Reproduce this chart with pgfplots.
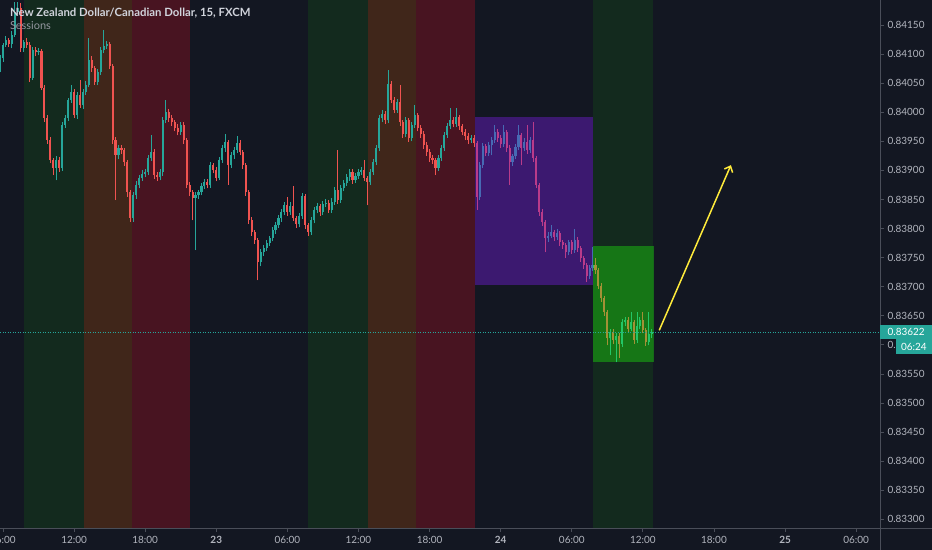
\documentclass[border=0pt]{standalone}
\usepackage{fontspec}
\setmainfont{Lato}
\usepackage{pgfplots}
\usepackage{pgfplotstable}
\pgfplotsset{compat=1.18}
\usetikzlibrary{arrows.meta}

\definecolor{bg}{HTML}{131722}
\definecolor{up}{HTML}{26A69A}
\definecolor{down}{HTML}{EF5350}
\definecolor{lon}{HTML}{132A1E}
\definecolor{ovl}{HTML}{40261A}
\definecolor{ny}{HTML}{481421}
\definecolor{asia}{RGB}{115,28,215}
\definecolor{lonbox}{RGB}{30,255,10}
\definecolor{axisgray}{HTML}{4A4E59}
\definecolor{ticktext}{HTML}{B2B5BE}
\definecolor{titletext}{HTML}{D1D4DC}
\definecolor{subtext}{HTML}{9598A1}
\definecolor{arrowyellow}{HTML}{FFEB3B}

% NZDCAD 15 min candles, t = hours since 22 00:00
\pgfplotstableread{
t o h l c
5.75 0.84073 0.84098 0.84069 0.84093
6.00 0.84093 0.84119 0.84087 0.84116
6.25 0.84116 0.84131 0.84113 0.84124
6.50 0.84124 0.84128 0.84112 0.84117
6.75 0.84117 0.84139 0.84110 0.84133
7.00 0.84133 0.84190 0.84129 0.84172
7.25 0.84172 0.84190 0.84169 0.84179
7.50 0.84179 0.84187 0.84104 0.84110
7.75 0.84110 0.84125 0.84104 0.84121
8.00 0.84121 0.84127 0.84111 0.84116
8.25 0.84116 0.84120 0.84052 0.84059
8.50 0.84059 0.84112 0.84055 0.84107
8.75 0.84107 0.84113 0.84096 0.84103
9.00 0.84103 0.84110 0.84098 0.84105
9.25 0.84105 0.84108 0.84038 0.84042
9.50 0.84042 0.84046 0.83984 0.83990
9.75 0.83990 0.83995 0.83946 0.83952
10.00 0.83952 0.83957 0.83912 0.83918
10.25 0.83918 0.83922 0.83892 0.83904
10.50 0.83904 0.83924 0.83883 0.83918
10.75 0.83918 0.83923 0.83898 0.83904
11.00 0.83904 0.83983 0.83899 0.83978
11.25 0.83978 0.83996 0.83973 0.83990
11.50 0.83990 0.84025 0.83985 0.84021
11.75 0.84021 0.84047 0.84016 0.84035
12.00 0.84035 0.84040 0.83990 0.83995
12.25 0.83995 0.84034 0.83989 0.84029
12.50 0.84029 0.84055 0.84007 0.84012
12.75 0.84012 0.84040 0.84006 0.84035
13.00 0.84035 0.84053 0.84030 0.84047
13.25 0.84047 0.84128 0.84043 0.84090
13.50 0.84090 0.84096 0.84070 0.84076
13.75 0.84076 0.84080 0.84047 0.84052
14.00 0.84052 0.84075 0.84046 0.84069
14.25 0.84069 0.84112 0.84064 0.84107
14.50 0.84107 0.84141 0.84101 0.84114
14.75 0.84114 0.84123 0.84109 0.84117
15.00 0.84117 0.84121 0.84074 0.84079
15.25 0.84079 0.84083 0.83946 0.83952
15.50 0.83952 0.83957 0.83849 0.83926
15.75 0.83926 0.83944 0.83919 0.83938
16.00 0.83938 0.83943 0.83928 0.83935
16.25 0.83935 0.83939 0.83908 0.83914
16.50 0.83914 0.83918 0.83855 0.83862
16.75 0.83862 0.83866 0.83811 0.83818
17.00 0.83818 0.83862 0.83812 0.83857
17.25 0.83857 0.83881 0.83851 0.83875
17.50 0.83875 0.83892 0.83869 0.83887
17.75 0.83887 0.83901 0.83882 0.83894
18.00 0.83894 0.83903 0.83888 0.83897
18.25 0.83897 0.83926 0.83892 0.83921
18.50 0.83921 0.83961 0.83916 0.83931
18.75 0.83931 0.83936 0.83885 0.83892
19.00 0.83892 0.83897 0.83882 0.83888
19.25 0.83888 0.83903 0.83883 0.83897
19.50 0.83897 0.83991 0.83891 0.83986
19.75 0.83986 0.84021 0.83981 0.84000
20.00 0.84000 0.84005 0.83984 0.83990
20.25 0.83990 0.83995 0.83977 0.83983
20.50 0.83983 0.83987 0.83967 0.83973
20.75 0.83973 0.83979 0.83960 0.83966
21.00 0.83966 0.83984 0.83961 0.83978
21.25 0.83978 0.83983 0.83946 0.83952
21.50 0.83952 0.83956 0.83869 0.83875
21.75 0.83875 0.83880 0.83856 0.83862
22.00 0.83862 0.83867 0.83814 0.83853
22.25 0.83853 0.83862 0.83763 0.83857
22.50 0.83857 0.83867 0.83851 0.83862
22.75 0.83862 0.83878 0.83857 0.83873
23.00 0.83873 0.83886 0.83868 0.83880
23.25 0.83880 0.83885 0.83869 0.83875
23.50 0.83875 0.83914 0.83870 0.83909
23.75 0.83909 0.83913 0.83895 0.83900
24.00 0.83900 0.83905 0.83881 0.83887
24.25 0.83887 0.83923 0.83883 0.83918
24.50 0.83918 0.83944 0.83913 0.83938
24.75 0.83938 0.83962 0.83932 0.83949
25.00 0.83949 0.83953 0.83875 0.83909
25.25 0.83909 0.83931 0.83904 0.83926
25.50 0.83926 0.83940 0.83920 0.83935
25.75 0.83935 0.83959 0.83930 0.83947
26.00 0.83947 0.83952 0.83926 0.83931
26.25 0.83931 0.83935 0.83903 0.83909
26.50 0.83909 0.83913 0.83856 0.83862
26.75 0.83862 0.83866 0.83808 0.83814
27.00 0.83814 0.83819 0.83788 0.83794
27.25 0.83794 0.83798 0.83774 0.83780
27.50 0.83780 0.83784 0.83711 0.83742
27.75 0.83742 0.83764 0.83735 0.83759
28.00 0.83759 0.83772 0.83753 0.83766
28.25 0.83766 0.83780 0.83761 0.83775
28.50 0.83775 0.83788 0.83770 0.83783
28.75 0.83783 0.83802 0.83778 0.83797
29.00 0.83797 0.83812 0.83791 0.83806
29.25 0.83806 0.83823 0.83801 0.83818
29.50 0.83818 0.83834 0.83812 0.83828
29.75 0.83828 0.83845 0.83823 0.83840
30.00 0.83840 0.83854 0.83822 0.83828
30.25 0.83828 0.83845 0.83823 0.83839
30.50 0.83839 0.83873 0.83813 0.83818
30.75 0.83818 0.83822 0.83801 0.83807
31.00 0.83807 0.83826 0.83802 0.83821
31.25 0.83821 0.83861 0.83816 0.83856
31.50 0.83856 0.83860 0.83800 0.83806
31.75 0.83806 0.83810 0.83788 0.83794
32.00 0.83794 0.83819 0.83789 0.83814
32.25 0.83814 0.83837 0.83809 0.83832
32.50 0.83832 0.83844 0.83826 0.83839
32.75 0.83839 0.83843 0.83822 0.83828
33.00 0.83828 0.83848 0.83823 0.83842
33.25 0.83842 0.83850 0.83837 0.83844
33.50 0.83844 0.83849 0.83827 0.83832
33.75 0.83832 0.83852 0.83827 0.83846
34.00 0.83846 0.83871 0.83841 0.83866
34.25 0.83866 0.83935 0.83843 0.83849
34.50 0.83849 0.83874 0.83844 0.83869
34.75 0.83869 0.83884 0.83864 0.83878
35.00 0.83878 0.83893 0.83873 0.83888
35.25 0.83888 0.83903 0.83882 0.83897
35.50 0.83897 0.83902 0.83877 0.83883
35.75 0.83883 0.83896 0.83878 0.83890
36.00 0.83890 0.83902 0.83885 0.83897
36.25 0.83897 0.83906 0.83892 0.83900
36.50 0.83900 0.83918 0.83882 0.83887
36.75 0.83887 0.83891 0.83840 0.83880
37.00 0.83880 0.83902 0.83875 0.83897
37.25 0.83897 0.83919 0.83892 0.83914
37.50 0.83914 0.83943 0.83909 0.83938
37.75 0.83938 0.83995 0.83933 0.83990
38.00 0.83990 0.84003 0.83984 0.83997
38.25 0.83997 0.84002 0.83980 0.83986
38.50 0.83986 0.84073 0.83981 0.84048
38.75 0.84048 0.84053 0.84015 0.84021
39.00 0.84021 0.84026 0.83998 0.84004
39.25 0.84004 0.84022 0.83999 0.84017
39.50 0.84017 0.84047 0.83977 0.83983
39.75 0.83983 0.83987 0.83956 0.83962
40.00 0.83962 0.83991 0.83957 0.83986
40.25 0.83986 0.83990 0.83949 0.83955
40.50 0.83955 0.83984 0.83950 0.83978
40.75 0.83978 0.84012 0.83973 0.83995
41.00 0.83995 0.83999 0.83967 0.83973
41.25 0.83973 0.83978 0.83956 0.83962
41.50 0.83962 0.83967 0.83937 0.83943
41.75 0.83943 0.83948 0.83925 0.83931
42.00 0.83931 0.83936 0.83915 0.83921
42.25 0.83921 0.83926 0.83911 0.83918
42.50 0.83918 0.83922 0.83892 0.83904
42.75 0.83904 0.83926 0.83899 0.83921
43.00 0.83921 0.83943 0.83916 0.83938
43.25 0.83938 0.83966 0.83933 0.83961
43.50 0.83961 0.83982 0.83956 0.83976
43.75 0.83976 0.84007 0.83971 0.83986
44.00 0.83986 0.83991 0.83974 0.83980
44.25 0.83980 0.84007 0.83975 0.83992
44.50 0.83992 0.83996 0.83970 0.83976
44.75 0.83976 0.83980 0.83960 0.83966
45.00 0.83966 0.83971 0.83953 0.83959
45.25 0.83959 0.83964 0.83946 0.83952
45.50 0.83952 0.83961 0.83947 0.83955
45.75 0.83955 0.83960 0.83941 0.83947
46.00 0.83947 0.83951 0.83832 0.83854
46.25 0.83854 0.83914 0.83849 0.83909
46.50 0.83909 0.83947 0.83904 0.83942
46.75 0.83942 0.83946 0.83924 0.83930
47.00 0.83930 0.83949 0.83925 0.83943
47.25 0.83943 0.83957 0.83926 0.83952
47.50 0.83952 0.83978 0.83947 0.83966
47.75 0.83966 0.83971 0.83949 0.83955
48.00 0.83955 0.83960 0.83939 0.83945
48.25 0.83945 0.83978 0.83940 0.83966
48.50 0.83966 0.83970 0.83932 0.83938
48.75 0.83938 0.83943 0.83875 0.83914
49.00 0.83914 0.83929 0.83908 0.83924
49.25 0.83924 0.83946 0.83919 0.83940
49.50 0.83940 0.83978 0.83935 0.83961
49.75 0.83961 0.83965 0.83909 0.83938
50.00 0.83938 0.83955 0.83933 0.83949
50.25 0.83949 0.83978 0.83929 0.83935
50.50 0.83935 0.83957 0.83930 0.83952
50.75 0.83952 0.83983 0.83915 0.83921
51.00 0.83921 0.83925 0.83869 0.83875
51.25 0.83875 0.83879 0.83822 0.83828
51.50 0.83828 0.83833 0.83805 0.83811
51.75 0.83811 0.83815 0.83759 0.83783
52.00 0.83783 0.83794 0.83777 0.83788
52.25 0.83788 0.83806 0.83783 0.83794
52.50 0.83794 0.83798 0.83779 0.83785
52.75 0.83785 0.83799 0.83780 0.83792
53.00 0.83792 0.83796 0.83770 0.83776
53.25 0.83776 0.83781 0.83765 0.83771
53.50 0.83771 0.83775 0.83749 0.83759
53.75 0.83759 0.83781 0.83754 0.83776
54.00 0.83776 0.83780 0.83757 0.83763
54.25 0.83763 0.83799 0.83758 0.83780
54.50 0.83780 0.83785 0.83760 0.83766
54.75 0.83766 0.83770 0.83743 0.83749
55.00 0.83749 0.83753 0.83731 0.83737
55.25 0.83737 0.83741 0.83708 0.83718
55.50 0.83718 0.83738 0.83713 0.83732
55.75 0.83732 0.83769 0.83727 0.83737
56.00 0.83737 0.83749 0.83722 0.83728
56.25 0.83728 0.83732 0.83696 0.83702
56.50 0.83702 0.83706 0.83674 0.83680
56.75 0.83680 0.83684 0.83650 0.83656
57.00 0.83656 0.83660 0.83599 0.83611
57.25 0.83611 0.83628 0.83582 0.83622
57.50 0.83622 0.83627 0.83602 0.83608
57.75 0.83608 0.83621 0.83570 0.83615
58.00 0.83615 0.83620 0.83577 0.83601
58.25 0.83601 0.83644 0.83596 0.83639
58.50 0.83639 0.83648 0.83633 0.83642
58.75 0.83642 0.83647 0.83622 0.83628
59.00 0.83628 0.83656 0.83623 0.83639
59.25 0.83639 0.83643 0.83602 0.83608
59.50 0.83608 0.83656 0.83603 0.83632
59.75 0.83632 0.83648 0.83627 0.83642
60.00 0.83642 0.83656 0.83620 0.83625
60.25 0.83625 0.83629 0.83598 0.83604
60.50 0.83604 0.83656 0.83599 0.83618
60.75 0.83618 0.83628 0.83612 0.83622
}\candles

\begin{document}
\begin{tikzpicture}
\fill[bg] (0,-22bp) rectangle (932bp,528bp);
\begin{axis}[
  at={(0,0)}, anchor=south west,
  scale only axis, width=880bp, height=528bp,
  xmin=5.75, xmax=80.01, ymin=0.83285, ymax=0.84193,
  axis x line*=bottom, axis y line*=right,
  axis line style={draw=axisgray, line width=0.8bp},
  tick align=outside, major tick length=4bp,
  tick style={draw=axisgray, line width=0.8bp},
  xtick={6,12,...,78},
  xticklabels={06:00,12:00,18:00,\textbf{23},06:00,12:00,18:00,\textbf{24},06:00,12:00,18:00,\textbf{25},06:00},
  ytick={0.833,0.8335,0.834,0.8345,0.835,0.8355,0.836,0.8365,0.837,0.8375,0.838,0.8385,0.839,0.8395,0.84,0.8405,0.841,0.8415},
  yticklabels={0.83300,0.83350,0.83400,0.83450,0.83500,0.83550,0.83600,0.83650,0.83700,0.83750,0.83800,0.83850,0.83900,0.83950,0.84000,0.84050,0.84100,0.84150},
  ticklabel style={font=\fontsize{10}{12}\selectfont, text=ticktext},
  yticklabel style={anchor=west},
  xticklabel style={yshift=-1bp},
  clip=true,
]
% sessions
\addplot[draw=none, fill=lon] coordinates {(7.77,0.8328) (7.77,0.8420) (12.86,0.8420) (12.86,0.8328)} -- cycle;
\addplot[draw=none, fill=ovl] coordinates {(12.86,0.8328) (12.86,0.8420) (16.91,0.8420) (16.91,0.8328)} -- cycle;
\addplot[draw=none, fill=ny] coordinates {(16.91,0.8328) (16.91,0.8420) (21.78,0.8420) (21.78,0.8328)} -- cycle;
\addplot[draw=none, fill=lon] coordinates {(31.76,0.8328) (31.76,0.8420) (36.78,0.8420) (36.78,0.8328)} -- cycle;
\addplot[draw=none, fill=ovl] coordinates {(36.78,0.8328) (36.78,0.8420) (40.88,0.8420) (40.88,0.8328)} -- cycle;
\addplot[draw=none, fill=ny] coordinates {(40.88,0.8328) (40.88,0.8420) (45.80,0.8420) (45.80,0.8328)} -- cycle;
\addplot[draw=none, fill=lon] coordinates {(55.76,0.8328) (55.76,0.8420) (60.83,0.8420) (60.83,0.8328)} -- cycle;

% candles: wicks then bodies
\addplot[up, line width=0.9bp, quiver={u=0, v=\thisrow{h}-\thisrow{l}, every arrow/.append style={arrows=-}},
  x filter/.expression={\thisrow{c}>=\thisrow{o} ? x : nan}] table[x=t, y=l] {\candles};
\addplot[up, line width=2.1bp, quiver={u=0, v=\thisrow{c}-\thisrow{o}, every arrow/.append style={arrows=-}},
  x filter/.expression={\thisrow{c}>=\thisrow{o} ? x : nan}] table[x=t, y=o] {\candles};
\addplot[down, line width=0.9bp, quiver={u=0, v=\thisrow{h}-\thisrow{l}, every arrow/.append style={arrows=-}},
  x filter/.expression={\thisrow{c}<\thisrow{o} ? x : nan}] table[x=t, y=l] {\candles};
\addplot[down, line width=2.1bp, quiver={u=0, v=\thisrow{c}-\thisrow{o}, every arrow/.append style={arrows=-}},
  x filter/.expression={\thisrow{c}<\thisrow{o} ? x : nan}] table[x=t, y=o] {\candles};

% drawn boxes
\addplot[draw=none, fill=asia, fill opacity=0.43] coordinates {(45.83,0.83703) (45.83,0.83992) (55.76,0.83992) (55.76,0.83703)} -- cycle;
\addplot[draw=none, fill=lonbox, fill opacity=0.36] coordinates {(55.76,0.83570) (55.76,0.83770) (60.96,0.83770) (60.96,0.83570)} -- cycle;

% last price line
\addplot[up, line width=0.6bp, dash pattern=on 1bp off 1.5bp] coordinates {(5.75,0.83622) (80.01,0.83622)};

% forecast arrow
\addplot[arrowyellow, line width=1.5bp, -{Straight Barb[length=5bp,width=9bp]}] coordinates {(61.38,0.83625) (67.43,0.83909)};

\coordinate (cur) at (axis cs:80.01,0.83622);
\end{axis}
\draw[axisgray, line width=0.8bp] (880bp,-22bp) -- (880bp,528bp);
\draw[axisgray, line width=0.8bp] (0,0) -- (932bp,0);
\node[fill=up, text=white, anchor=west, minimum width=52bp, minimum height=14.5bp, inner sep=0pt,
  font=\fontsize{10}{12}\selectfont] at (cur) {0.83622};
\node[fill=up, text=white, anchor=north east, minimum width=36bp, minimum height=15bp, inner sep=0pt,
  font=\fontsize{10}{12}\selectfont] at ([yshift=-7.2bp]cur -| 932bp,0) {06:24};
\node[anchor=base west, text=titletext, font=\fontsize{11.4}{13}\selectfont\bfseries] at (6.5bp,511bp)
  {New Zealand Dollar/Canadian Dollar, 15, FXCM};
\node[anchor=base west, text=subtext, font=\fontsize{11}{13}\selectfont] at (6.5bp,498.5bp) {Sessions};
\pgfresetboundingbox
\path[use as bounding box] (0,-22bp) rectangle (932bp,528bp);
\end{tikzpicture}
\end{document}
